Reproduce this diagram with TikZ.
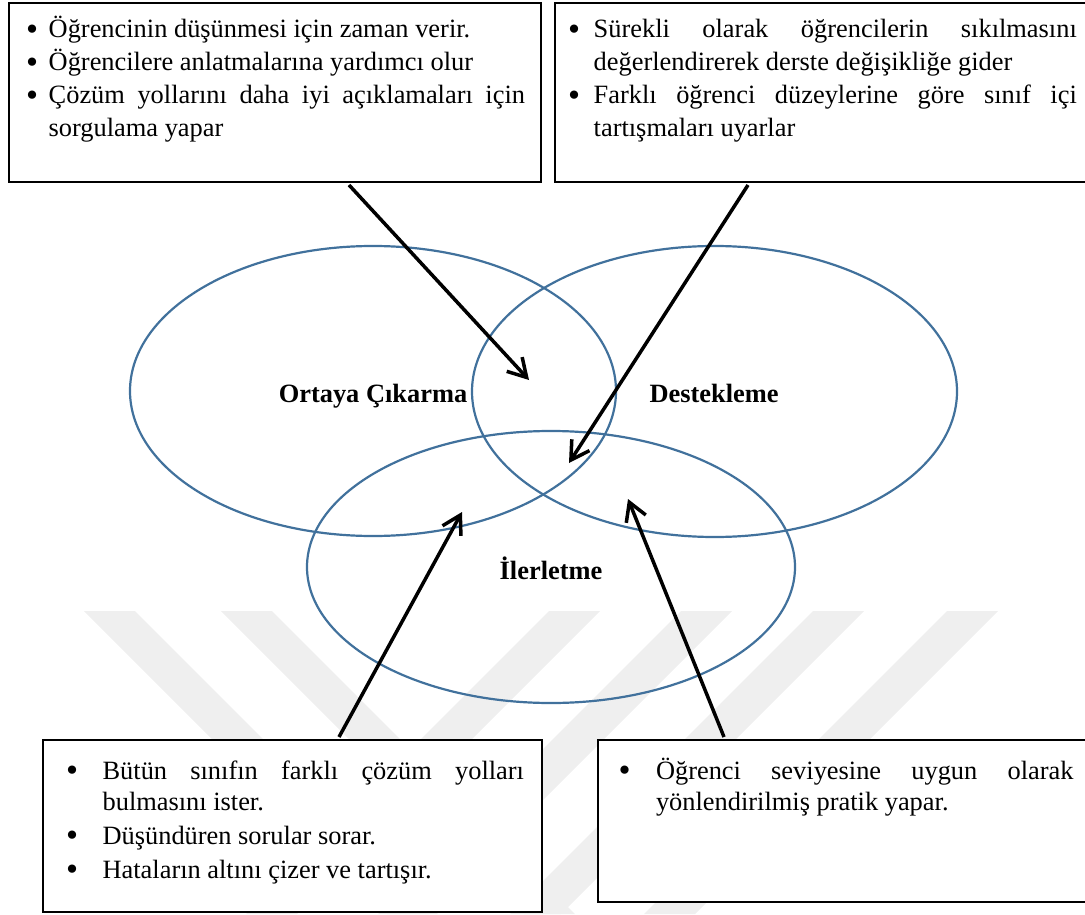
\documentclass[tikz,border=0pt]{standalone}
\usepackage{fontspec}
\setmainfont{Liberation Serif}
\usetikzlibrary{arrows.meta,shapes.geometric}

\definecolor{ringblue}{HTML}{41719C}
\definecolor{markgray}{HTML}{EFEFEF}

% no hyphenation in the justified lists
\hyphenpenalty=10000
\exhyphenpenalty=10000
\tolerance=9999
\emergencystretch=20pt

% a slightly enlarged bullet
\newcommand\bigbul{\raisebox{-0.08em}{\scalebox{1.3}{\textbullet}}}
% one bulleted item with a hanging indent of #1
\newcommand\bul[2]{\hangindent=#1\hangafter=1\noindent\makebox[#1][l]{\bigbul}#2\par}
% fixes the height of the first line of a list
\newcommand\firstline{\rule{0pt}{13pt}}

\tikzset{
  panel/.style={draw=black, line width=1pt, fill=white, inner sep=0pt, outer sep=0pt},
  listtext/.style={inner sep=0pt, outer sep=0pt, anchor=north west, align=justify,
    font=\fontsize{13.2pt}{16.5pt}\selectfont},
  listtextlow/.style={listtext, font=\fontsize{13.2pt}{15.5pt}\selectfont},
  ring/.style={ellipse, draw=ringblue, line width=1.1pt, inner sep=0pt},
  ringlabel/.style={anchor=base, inner sep=0pt, font=\fontsize{13.2pt}{16pt}\selectfont\bfseries},
  pointer/.style={line width=1.75pt, -{Straight Barb[length=9pt,width=10.5pt]}},
  band/.style={fill=markgray, draw=none},
}

\begin{document}
\begin{tikzpicture}[x=0.5pt, y=-0.5pt]
\useasboundingbox (0,0) rectangle (1085,914);

% light stripes in the background
\fill[band] (84,611) -- (135,611) -- (438,914) -- (387,914) -- cycle;
\fill[band] (221,611) -- (272,611) -- (575,914) -- (524,914) -- cycle;
\fill[band] (549,611) -- (600,611) -- (297,914) -- (246,914) -- cycle;
\fill[band] (681,611) -- (732,611) -- (429,914) -- (378,914) -- cycle;
\fill[band] (813,611) -- (864,611) -- (561,914) -- (510,914) -- cycle;
\fill[band] (947,611) -- (998,611) -- (695,914) -- (644,914) -- cycle;

% the three overlapping areas
\node[ring, minimum width=243pt, minimum height=145pt] (ortaya) at (373,391) {};
\node[ring, minimum width=242.5pt, minimum height=145.5pt] (destek) at (714.5,391.5) {};
\node[ring, minimum width=244pt, minimum height=136pt] (ilerlet) at (551,567) {};
\node[ringlabel] (ortayalbl) at (373,402) {Ortaya Çıkarma};
\node[ringlabel] (desteklbl) at (714,402) {Destekleme};
\node[ringlabel] (ilerletlbl) at (551,579) {İlerletme};

% text boxes
\node[panel, minimum width=266pt, minimum height=89.5pt] (tl) at (275,92.5) {};
\node[panel, minimum width=270pt, minimum height=89.5pt] (tr) at (825,92.5) {};
\node[panel, minimum width=249.5pt, minimum height=86pt] (bl) at (292.5,826) {};
\node[panel, minimum width=248.5pt, minimum height=81pt] (br) at (846.5,821) {};

\node[listtext, text width=249.5pt] (tltext) at (26,12) {%
  \bul{11.35pt}{\firstline Öğrencinin düşünmesi için zaman verir.}%
  \bul{11.35pt}{Öğrencilere anlatmalarına yardımcı olur}%
  \bul{11.35pt}{Çözüm yollarını daha iyi açıklamaları için\linebreak sorgulama yapar}};

\node[listtext, text width=254.4pt] (trtext) at (568,12) {%
  \bul{12.85pt}{\firstline Sürekli olarak öğrencilerin sıkılmasını\linebreak değerlendirerek derste değişikliğe gider}%
  \bul{12.85pt}{Farklı öğrenci düzeylerine göre sınıf içi\linebreak tartışmaları uyarlar}};

\node[listtextlow, text width=229pt] (bltext) at (66,753.5) {%
  \setlength\parskip{1.5pt}%
  \bul{18.3pt}{\firstline Bütün sınıfın farklı çözüm yolları\linebreak bulmasını ister.}%
  \bul{18.3pt}{Düşündüren sorular sorar.}%
  \bul{18.3pt}{Hataların altını çizer ve tartışır.}};

\node[listtextlow, text width=227.5pt] (brtext) at (618.5,753.5) {%
  \bul{18.75pt}{\firstline Öğrenci seviyesine uygun olarak\linebreak yönlendirilmiş pratik yapar.}};

% arrow ends
\coordinate (tlout) at (349,185);
\coordinate (trout) at (748,185);
\coordinate (blout) at (339,737);
\coordinate (brout) at (724,737);
\coordinate (tlin) at (529,380);
\coordinate (trin) at (569,463);
\coordinate (blin) at (462,512);
\coordinate (brin) at (628,499);

\draw[pointer] (tlout) -- (tlin);
\draw[pointer] (trout) -- (trin);
\draw[pointer] (blout) -- (blin);
\draw[pointer] (brout) -- (brin);
\end{tikzpicture}
\end{document}
